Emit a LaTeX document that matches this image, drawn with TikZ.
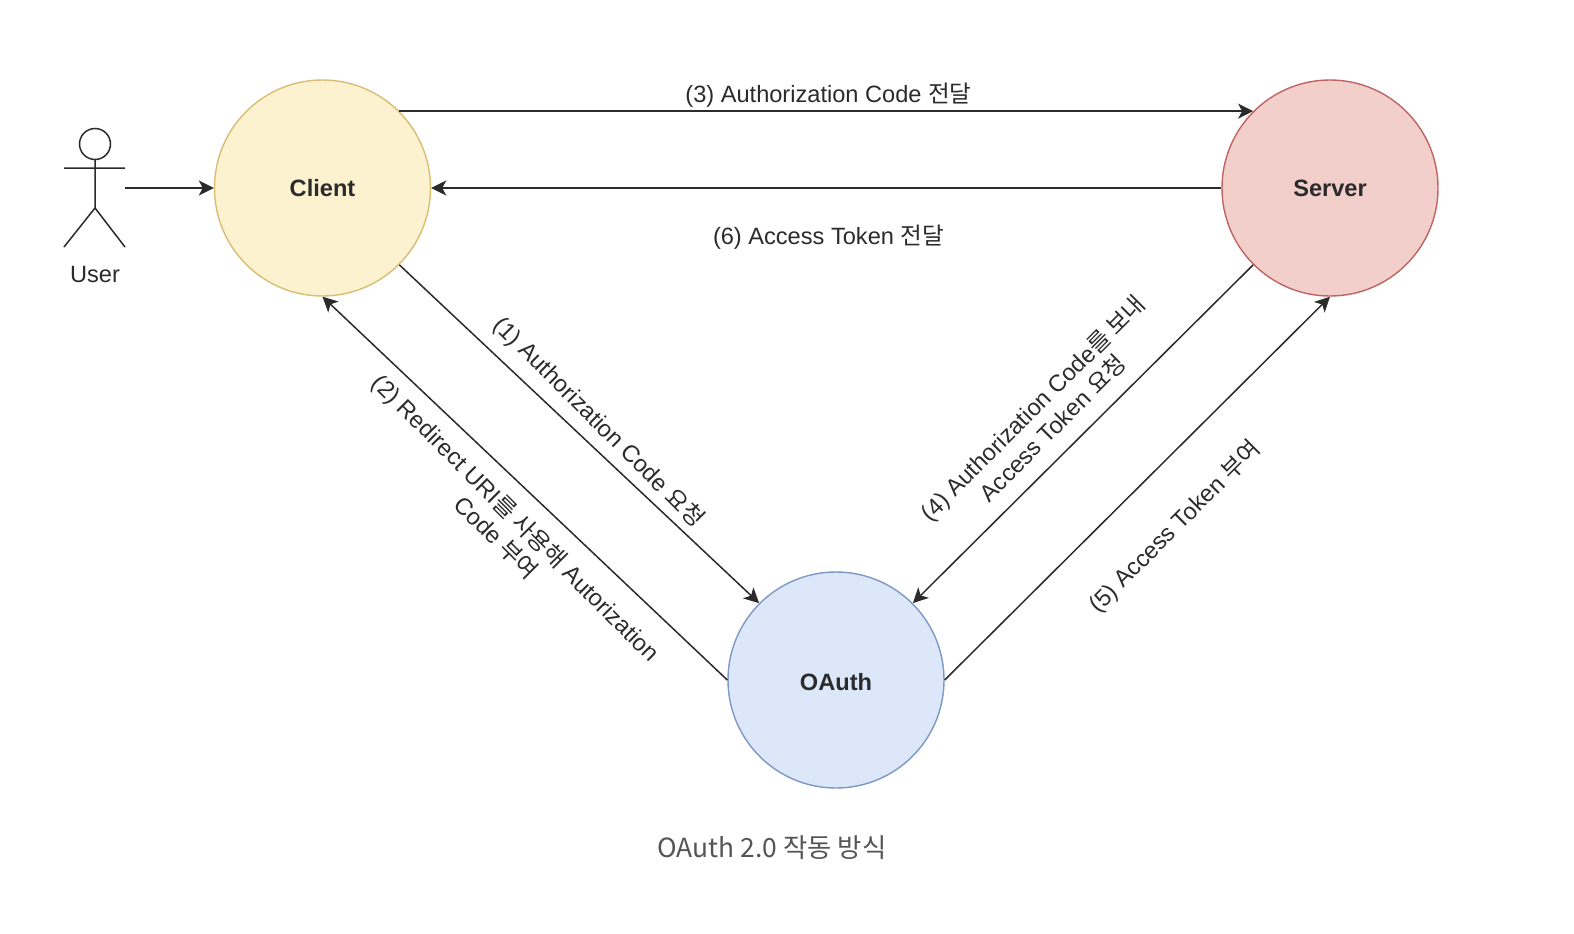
\documentclass[tikz,border=0pt]{standalone}
\usepackage{fontspec}
\setmainfont{Liberation Sans}
\newfontfamily\kr{Noto Sans CJK KR}
\usetikzlibrary{arrows.meta}
\definecolor{ink}{HTML}{2B2B2B}
\definecolor{capt}{HTML}{555555}
\tikzset{
  x=1pt,y=-1pt,
  party/.style={circle,draw,line width=1.4pt,minimum size=216pt,inner sep=0pt,font=\fontsize{23.6}{28}\selectfont\bfseries,text=ink},
  flow/.style={draw=ink,line width=1.5pt,-{Stealth[length=15pt,width=15pt,inset=4pt]}},
  lbl/.style={font=\fontsize{23.6}{28}\selectfont,text=ink,align=center,inner sep=0pt},
  figure stroke/.style={draw=ink,line width=1.5pt}
}
\begin{document}
\begin{tikzpicture}
\useasboundingbox (0,0) rectangle (1574,934);
\fill[white] (0,0) rectangle (1574,934);
\node[party,fill={rgb,255:red,253;green,242;blue,208},draw={rgb,255:red,216;green,190;blue,115}] (client) at (322.5,188) {Client};
\node[party,fill={rgb,255:red,243;green,207;blue,204},draw={rgb,255:red,190;green,100;blue,98}] (server) at (1330,188) {Server};
\node[party,fill={rgb,255:red,220;green,232;blue,250},draw={rgb,255:red,125;green,152;blue,198}] (oauth) at (836,680) {};
\node[lbl,font=\fontsize{23.6}{28}\selectfont\bfseries] (oauthl) at (836,682) {OAuth};
\node[minimum width=61pt,minimum height=122pt,inner sep=0pt] (user) at (94.5,188) {};
\draw[figure stroke] (95,144) circle (15.5);
\draw[figure stroke] (95,159.5) -- (95,208) (64,168) -- (125,168) (64,247) -- (95,208) -- (125,247);
\node[lbl,text=ink] (userl) at (95,274.5) {User};
\draw[flow] (user.east) -- (client.west);
\draw[flow] (client.45) -- (server.135);
\draw[flow] (server.west) -- (client.east);
\draw[flow] (client.-45) -- (oauth.135);
\draw[flow] (oauth.west) -- (client.south);
\draw[flow] (server.225) -- (oauth.45);
\draw[flow] (oauth.east) -- (server.south);
\node[lbl] (l3) at (828.5,95) {(3) Authorization Code {\kr 전달}};
\node[lbl] (l6) at (828.5,237) {(6) Access Token {\kr 전달}};
\node[lbl,rotate=-45] (l1) at (598.5,422.5) {(1) Authorization Code {\kr 요청}};
\node[lbl,rotate=-45] (l2) at (506.5,527.5) {(2) Redirect URI{\kr 를 사용해} Autorization\\Code {\kr 부여}};
\node[lbl,rotate=45] (l4) at (1042.5,418) {(4) Authorization Code{\kr 를 보내}\\Access Token {\kr 요청}};
\node[lbl,rotate=45] (l5) at (1175,527) {(5) Access Token {\kr 부여}};
\node[inner sep=0pt,text=capt,font=\kr\fontsize{26.4}{30}\selectfont] (cap) at (772,848) {OAuth 2.0 작동 방식};
\end{tikzpicture}
\end{document}
